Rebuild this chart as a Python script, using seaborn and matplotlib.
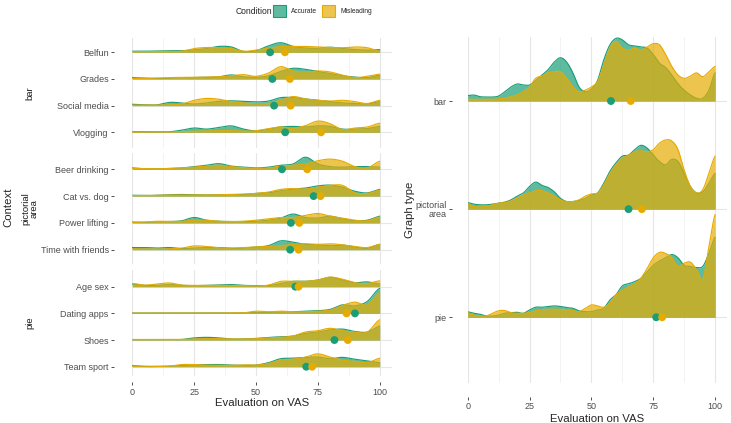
import numpy as np
import pandas as pd
import matplotlib
matplotlib.use("Agg")
import matplotlib.pyplot as plt
from matplotlib.patches import Patch
import seaborn as sns

# ---------------- data ----------------
graph_types = ["bar", "pictorial area", "pie"]
graph_labels = ["bar", "pictorial\narea", "pie"]
contexts_bar = ["Belfun", "Grades", "Social media", "Vlogging"]
contexts_pict = ["Beer drinking", "Cat vs. dog", "Power lifting", "Time with friends"]
contexts_pie = ["Age sex", "Dating apps", "Shoes", "Team sport"]
conditions = ["Accurate", "Misleading"]

# VAS grid where the (scaled) density heights were read
vas_left = np.arange(0, 101, 5)
vas_right = np.arange(0, 100.1, 2.5)

# left panel: scaled density heights per context (Accurate / Misleading)
belfun_acc = [.04,.04,.05,.06,.06,.09,.14,.22,.2,.03,.06,.24,.36,.22,.16,.15,.19,.14,.10,.08,.10]
belfun_mis = [.02,.02,.03,.03,.04,.14,.18,.17,.14,.04,.08,.15,.22,.22,.22,.2,.18,.17,.2,.17,.04]
grades_acc = [.05,.03,.02,.03,.04,.06,.06,.08,.15,.08,.06,.12,.28,.4,.36,.28,.2,.12,.07,.05,.14]
grades_mis = [.02,.02,.03,.05,.06,.06,.07,.08,.12,.16,.10,.22,.46,.3,.26,.3,.26,.14,.05,.10,.18]
social_acc = [.05,.03,.03,.12,.1,.06,.1,.16,.18,.16,.14,.17,.3,.3,.25,.2,.15,.1,.08,.06,.15]
social_mis = [.02,.02,.02,.03,.06,.2,.27,.24,.15,.1,.06,.08,.2,.34,.25,.2,.17,.2,.15,.08,.2]
vlog_acc = [.02,.02,.02,.02,.08,.16,.12,.18,.24,.12,.05,.12,.2,.22,.2,.24,.22,.12,.12,.14,.22]
vlog_mis = [.01,.01,.01,.01,.02,.04,.05,.06,.06,.04,.06,.14,.2,.15,.25,.42,.32,.1,.16,.2,.34]
beer_acc = [.05,.02,.02,.03,.05,.1,.15,.21,.12,.08,.05,.08,.15,.2,.45,.2,.1,.08,.1,.1,.08]
beer_mis = [.03,.02,.02,.03,.05,.08,.12,.15,.1,.06,.04,.05,.12,.15,.2,.32,.38,.3,.1,.05,.3]
cat_acc = [.03,.02,.03,.05,.06,.05,.04,.05,.05,.06,.1,.12,.2,.26,.3,.38,.41,.33,.18,.12,.25]
cat_mis = [.02,.02,.03,.04,.04,.04,.04,.05,.06,.07,.1,.15,.25,.28,.26,.33,.4,.4,.12,.1,.22]
power_acc = [.03,.02,.04,.05,.08,.2,.1,.06,.05,.05,.06,.1,.18,.33,.2,.18,.25,.15,.08,.1,.25]
power_mis = [.02,.03,.06,.05,.06,.1,.1,.06,.05,.06,.1,.15,.2,.2,.28,.35,.25,.18,.1,.08,.22]
time_acc = [.08,.08,.06,.08,.04,.06,.08,.08,.05,.06,.1,.15,.33,.28,.2,.18,.15,.17,.1,.05,.2]
time_mis = [.03,.02,.02,.03,.06,.14,.12,.07,.06,.08,.1,.12,.15,.2,.22,.2,.22,.18,.12,.08,.2]
age_acc = [.1,.05,.05,.08,.05,.04,.05,.07,.08,.05,.04,.04,.12,.2,.2,.25,.35,.25,.15,.18,.1]
age_mis = [.12,.06,.1,.14,.06,.05,.05,.05,.05,.04,.03,.06,.2,.2,.2,.25,.36,.28,.15,.12,.22]
dating_acc = [.01,.01,.01,.01,.01,.01,.01,.01,.01,.02,.03,.04,.05,.06,.08,.1,.15,.32,.28,.45,.94]
dating_mis = [.01,.01,.01,.01,.01,.01,.01,.01,.02,.02,.08,.06,.08,.06,.06,.08,.12,.3,.42,.32,.78]
shoes_acc = [.01,.01,.01,.01,.02,.08,.1,.08,.04,.04,.06,.1,.12,.15,.25,.3,.38,.41,.32,.3,.52]
shoes_mis = [.02,.02,.02,.02,.02,.04,.05,.05,.04,.04,.05,.08,.1,.15,.3,.35,.44,.35,.3,.3,.76]
team_acc = [.04,.01,.01,.02,.04,.07,.08,.08,.06,.05,.06,.15,.3,.32,.35,.36,.3,.35,.28,.22,.15]
team_mis = [.02,.01,.01,.02,.08,.08,.06,.05,.05,.07,.06,.12,.25,.28,.36,.48,.36,.24,.2,.15,.32]

# left panel: mean VAS per context
mean_ctx_acc = [55.7, 56.6, 57.3, 61.8, 60.5, 73.3, 64.1, 63.8, 65.9, 90.0, 81.7, 70.3]
mean_ctx_mis = [61.7, 63.7, 64.0, 76.3, 70.7, 76.1, 67.5, 67.2, 67.2, 86.6, 87.1, 72.7]

# right panel: scaled density heights per graph type
bar_acc = [.05,.055,.04,.037,.037,.046,.086,.13,.157,.148,.148,.19,.24,.29,.36,.40,.36,.26,.13,.086,
           .11,.19,.38,.52,.58,.565,.52,.51,.50,.49,.43,.35,.31,.24,.16,.10,.056,.025,.025,.10,.26]
bar_mis = [.015,.015,.015,.015,.015,.02,.025,.04,.056,.086,.13,.21,.23,.26,.27,.27,.21,.13,.086,.10,
           .13,.18,.33,.49,.55,.49,.47,.49,.47,.50,.53,.52,.43,.32,.24,.21,.23,.26,.225,.27,.32]
pict_acc = [.06,.046,.04,.04,.046,.056,.065,.086,.12,.15,.21,.25,.22,.20,.16,.10,.07,.07,.08,.10,
            .13,.15,.24,.35,.43,.49,.50,.55,.59,.565,.50,.44,.41,.46,.44,.33,.21,.15,.16,.24,.33]
pict_mis = [.05,.025,.02,.025,.04,.056,.06,.077,.10,.13,.15,.17,.17,.15,.12,.086,.07,.07,.086,.12,
            .14,.15,.225,.33,.41,.47,.50,.53,.54,.53,.55,.61,.64,.63,.55,.36,.21,.15,.18,.33,.49]
pie_acc = [.05,.037,.028,.012,.012,.02,.037,.043,.046,.037,.068,.093,.093,.10,.105,.10,.09,.083,.06,.052,
           .052,.068,.083,.16,.21,.29,.31,.33,.36,.42,.48,.52,.55,.58,.55,.48,.47,.46,.47,.59,.74]
pie_mis = [.043,.02,.012,.012,.037,.06,.062,.043,.037,.037,.043,.06,.068,.074,.074,.074,.068,.062,.052,.083,
           .114,.105,.093,.13,.21,.25,.28,.31,.36,.45,.55,.60,.59,.55,.47,.50,.51,.44,.35,.65,.95]

# right panel: mean VAS per graph type
mean_graph_acc = [57.9, 65.0, 76.2]
mean_graph_mis = [65.9, 70.4, 78.6]

# ---------------- tidy tables ----------------
left_curves = {
    "Belfun": (belfun_acc, belfun_mis), "Grades": (grades_acc, grades_mis),
    "Social media": (social_acc, social_mis), "Vlogging": (vlog_acc, vlog_mis),
    "Beer drinking": (beer_acc, beer_mis), "Cat vs. dog": (cat_acc, cat_mis),
    "Power lifting": (power_acc, power_mis), "Time with friends": (time_acc, time_mis),
    "Age sex": (age_acc, age_mis), "Dating apps": (dating_acc, dating_mis),
    "Shoes": (shoes_acc, shoes_mis), "Team sport": (team_acc, team_mis),
}
right_curves = {"bar": (bar_acc, bar_mis), "pictorial area": (pict_acc, pict_mis),
                "pie": (pie_acc, pie_mis)}
facet_contexts = {"bar": contexts_bar, "pictorial area": contexts_pict, "pie": contexts_pie}

rows = []
for g in graph_types:
    for c in facet_contexts[g]:
        for ci, cond in enumerate(conditions):
            for x, d in zip(vas_left, left_curves[c][ci]):
                rows.append((g, c, cond, x, d))
dens_left = pd.DataFrame(rows, columns=["graph", "context", "condition", "vas", "density"])
rows = []
for g in graph_types:
    for ci, cond in enumerate(conditions):
        for x, d in zip(vas_right, right_curves[g][ci]):
            rows.append((g, cond, x, d))
dens_right = pd.DataFrame(rows, columns=["graph", "condition", "vas", "density"])

all_ctx = contexts_bar + contexts_pict + contexts_pie
means_left = pd.DataFrame({
    "graph": [g for g in graph_types for _ in range(4)] * 2,
    "context": all_ctx * 2,
    "condition": ["Accurate"] * 12 + ["Misleading"] * 12,
    "vas": mean_ctx_acc + mean_ctx_mis,
})
means_right = pd.DataFrame({
    "graph": graph_types * 2,
    "condition": ["Accurate"] * 3 + ["Misleading"] * 3,
    "vas": mean_graph_acc + mean_graph_mis,
})

# ---------------- style ----------------
sns.set_theme(style="white")
plt.rcParams["font.family"] = ["Liberation Sans", "DejaVu Sans"]
palette = {"Accurate": "#1b9e77", "Misleading": "#e6ab02"}
ALPHA = 0.7
TICK_COL = "#4d4d4d"
GRID_MAJ = "#e6e6e6"
GRID_MIN = "#f1f1f1"
FS_TICK = 6.5
FS_TITLE = 8.2

W, H = 731, 423
fig = plt.figure(figsize=(W / 100, H / 100), dpi=100)


def add_ax(l, t, r, b):
    return fig.add_axes([l / W, 1 - b / H, (r - l) / W, (b - t) / H])


def spline(xs, ys, n=12):
    xs = np.asarray(xs, float)
    ys = np.asarray(ys, float)
    p = np.concatenate([[ys[0]], ys, [ys[-1]]])
    ox, oy = [], []
    t = np.linspace(0, 1, n, endpoint=False)
    for i in range(len(xs) - 1):
        p0, p1, p2, p3 = p[i], p[i + 1], p[i + 2], p[i + 3]
        y = 0.5 * (2 * p1 + (-p0 + p2) * t + (2 * p0 - 5 * p1 + 4 * p2 - p3) * t ** 2
                   + (-p0 + 3 * p1 - 3 * p2 + p3) * t ** 3)
        ox.append(xs[i] + (xs[i + 1] - xs[i]) * t)
        oy.append(y)
    ox.append([xs[-1]])
    oy.append([ys[-1]])
    return np.concatenate(ox), np.clip(np.concatenate(oy), 0, None)


def style_axis(ax, ylim, cats, labels, x_off, y_off, show_x):
    ax.set_xlim(0, 105)
    ax.set_ylim(*ylim)
    for s in ax.spines.values():
        s.set_visible(False)
    ax.spines["bottom"].set_position(("outward", y_off))
    ax.spines["left"].set_position(("outward", x_off))
    ax.set_xticks([0, 25, 50, 75, 100])
    ax.set_xticks([12.5, 37.5, 62.5, 87.5], minor=True)
    ax.set_yticks(cats)
    ax.set_yticklabels(labels, fontsize=FS_TICK, color=TICK_COL, linespacing=0.95)
    for lbl in ax.get_yticklabels():
        lbl.set_multialignment("right")
    ax.tick_params(axis="both", which="major", length=2.5, width=0.6, color="#333333",
                   labelsize=FS_TICK, labelcolor=TICK_COL, pad=1.5)
    ax.tick_params(axis="x", which="minor", length=0)
    ax.tick_params(axis="y", which="major", left=True)
    ax.tick_params(axis="x", which="major", bottom=show_x, labelbottom=show_x)
    for v in [0, 25, 50, 75, 100]:
        ax.axvline(v, color=GRID_MAJ, lw=0.8, zorder=0)
    for v in [12.5, 37.5, 62.5, 87.5]:
        ax.axvline(v, color=GRID_MIN, lw=0.6, zorder=0)
    for c in cats:
        ax.plot([0, 105], [c, c], color=GRID_MAJ, lw=0.8, zorder=0, solid_capstyle="butt")
    ax.grid(False)


def draw_ridges(ax, df, key, cats_order, means, mean_key):
    n = len(cats_order)
    pos = {c: n - i for i, c in enumerate(cats_order)}
    z = 1
    for c in cats_order:  # top ridge first, lower ridges drawn over
        for cond in conditions:
            sub = df[(df[key] == c) & (df["condition"] == cond)]
            xs, ys = spline(sub["vas"].values, sub["density"].values)
            base = pos[c]
            ax.fill_between(xs, base, base + ys, color=palette[cond], alpha=ALPHA,
                            lw=0, zorder=z)
            ax.plot(xs, base + ys, color=palette[cond], lw=0.85, zorder=z + 0.5)
            z += 1
    m = means.copy()
    m["y"] = m[mean_key].map(pos)
    for cond in conditions:
        sns.scatterplot(data=m[m["condition"] == cond], x="vas", y="y", color=palette[cond],
                        s=32, edgecolor="none", linewidth=0, ax=ax, zorder=100, legend=False)
    ax.set_xlabel("")
    ax.set_ylabel("")


# ---------------- left panel: facets by graph type ----------------
L0, L1 = 132.3, 132.3 + 105 * 2.474
facet_px = {"bar": (38, 148), "pictorial area": (152.5, 264), "pie": (269.5, 375.5)}
facet_ylim = {"bar": (0.411, 4.536), "pictorial area": (0.466, 4.627), "pie": (0.67, 4.645)}
left_axes = []
for gi, g in enumerate(graph_types):
    t, b = facet_px[g]
    ax = add_ax(L0, t, L1, b)
    ctxs = facet_contexts[g]
    style_axis(ax, facet_ylim[g], [4, 3, 2, 1], ctxs, 13, 5, gi == 2)
    draw_ridges(ax, dens_left[dens_left["graph"] == g], "context", ctxs,
                means_left[means_left["graph"] == g], "context")
    ax.set_yticks([4, 3, 2, 1])
    ax.set_yticklabels(ctxs, fontsize=FS_TICK, color=TICK_COL)
    ax.set_xlim(0, 105)
    ax.set_ylim(*facet_ylim[g])
    fig.text(30 / W, 1 - ((t + b) / 2) / H, graph_labels[gi], rotation=90, ha="center",
             va="center", fontsize=FS_TICK + 0.3, color="#1a1a1a", multialignment="center",
             linespacing=0.95)
    left_axes.append(ax)
left_axes[-1].set_xlabel("Evaluation on VAS", fontsize=FS_TITLE, labelpad=1)
fig.text(8 / W, 1 - 207 / H, "Context", rotation=90, ha="center", va="center",
         fontsize=FS_TITLE)

# ---------------- right panel: graph types ----------------
R0, R1 = 467.7, 467.7 + 105 * 2.474
axr = add_ax(R0, 37, R1, 382.7)
style_axis(axr, (0.395, 3.592), [3, 2, 1], graph_labels, 11, 10, True)
draw_ridges(axr, dens_right, "graph", graph_types, means_right, "graph")
axr.set_yticks([3, 2, 1])
axr.set_yticklabels(graph_labels, fontsize=FS_TICK, color=TICK_COL, linespacing=0.95)
for lbl in axr.get_yticklabels():
    lbl.set_multialignment("right")
axr.set_xlim(0, 105)
axr.set_ylim(0.395, 3.592)
axr.set_xlabel("Evaluation on VAS", fontsize=FS_TITLE, labelpad=2)
fig.text(410 / W, 1 - 210 / H, "Graph type", rotation=90, ha="center", va="center",
         fontsize=FS_TITLE)

# ---------------- legend ----------------
fig.text(254 / W, 1 - 11 / H, "Condition", ha="center", va="center", fontsize=6.2)
handles = []
for c in conditions:
    r, g_, b_ = matplotlib.colors.to_rgb(palette[c])
    handles.append(Patch(facecolor=(r, g_, b_, ALPHA), edgecolor=palette[c], lw=0.8))
leg = fig.legend(handles, conditions, loc="center left", bbox_to_anchor=(273 / W, 1 - 11 / H),
                 ncol=2, frameon=False, fontsize=4.8, handlelength=1.9, handleheight=2.6,
                 handletextpad=0.8, columnspacing=0.8, borderpad=0, borderaxespad=0)

fig.savefig("out.png", dpi=100)
